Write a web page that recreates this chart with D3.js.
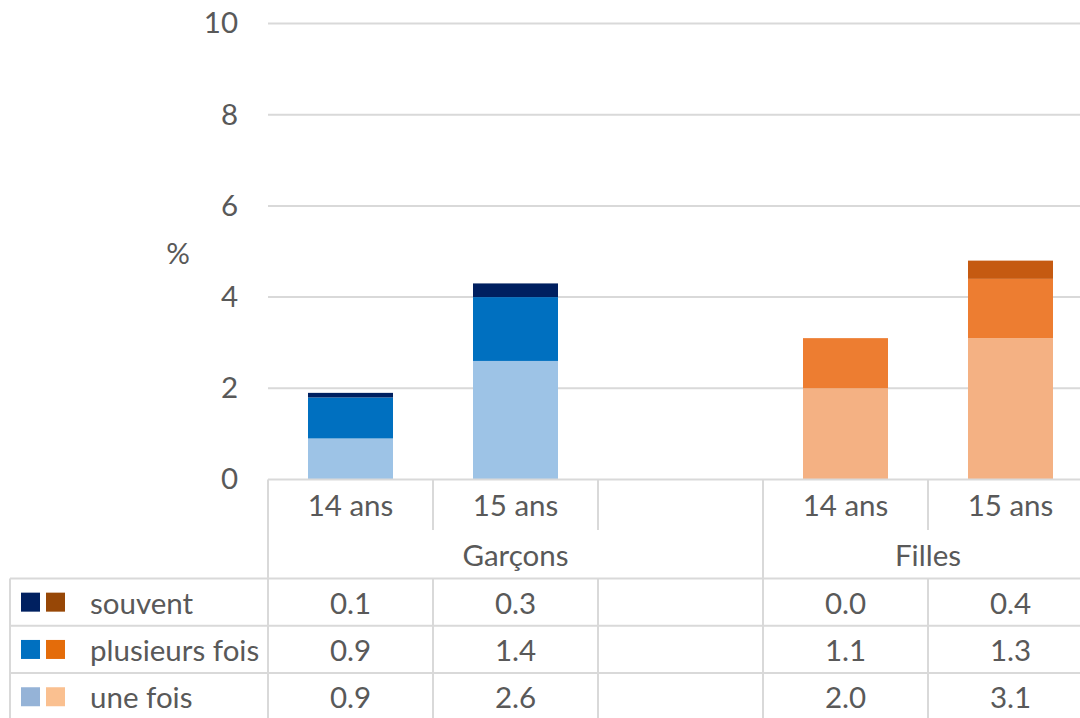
<!DOCTYPE html>
<html><head><meta charset="utf-8">
<script src="https://cdn.jsdelivr.net/npm/d3@7"></script>
<style>
html,body{margin:0;padding:0;background:#fff;}
svg{display:block;font-family:Lato,"Open Sans",sans-serif;}
</style></head>
<body><svg id="c" width="1080" height="718"></svg>
<script>
// ---- data ----
const slots = ["g14","g15","gap","f14","f15"];
const slotLabels = ["14 ans","15 ans","","14 ans","15 ans"];
const slotGroup = ["Garçons","Garçons","Garçons","Filles","Filles"];
const groups = ["Garçons","Filles"];
const seriesNames = ["une fois","plusieurs fois","souvent"];
const uneFois = [0.9, 2.6, null, 2.0, 3.1];
const plusieursFois = [0.9, 1.4, null, 1.1, 1.3];
const souvent = [0.1, 0.3, null, 0.0, 0.4];
const yTicks = [0,2,4,6,8,10];
const boyColors = ["#9DC3E6","#0070C0","#002060"];
const girlColors = ["#F4B183","#ED7D31","#C55A11"];
const legendBoy = ["#95B3D7","#0070C0","#002060"];
const legendGirl = ["#FAC090","#E46C0A","#974706"];

const seriesVals = [uneFois, plusieursFois, souvent];
const svg = d3.select("#c");
const textCol = "#595959", lineCol = "#D9D9D9";
const fs = 29.5;

const step = 165, x0 = 268;
const x = d3.scaleBand().domain(slots).range([x0, x0 + step*slots.length])
  .paddingInner(80/165).paddingOuter(40/165);
const y = d3.scaleLinear().domain([0,10]).range([479.5, 23.5]);

// gridlines
svg.append("g").selectAll("line").data(yTicks.filter(t=>t>0)).join("line")
  .attr("x1", x0).attr("x2", 1080).attr("y1", d=>y(d)).attr("y2", d=>y(d))
  .attr("stroke", lineCol).attr("stroke-width", 2);

// y axis labels
const yAxis = d3.axisLeft(y).tickValues(yTicks).tickSize(0).tickPadding(0);
const ya = svg.append("g").attr("transform","translate(238,0)").call(yAxis);
ya.select(".domain").remove();
ya.selectAll("text").attr("fill", textCol).style("font-size", fs+"px").style("font-family","Lato,'Open Sans',sans-serif");

svg.append("text").attr("x",178).attr("y",252).attr("text-anchor","middle")
  .attr("dominant-baseline","central").attr("fill",textCol).style("font-size",fs+"px").text("%");

// stacked bars
const rows = slots.map((s,i)=>{ const o={slot:s}; seriesNames.forEach((n,k)=>o[n]=seriesVals[k][i]||0); return o; });
const stack = d3.stack().keys(seriesNames)(rows);
stack.forEach((layer,k)=>{
  svg.append("g").selectAll("rect").data(layer.filter(d=>d.data.slot!=="gap")).join("rect")
    .attr("x", d=>x(d.data.slot)).attr("width", x.bandwidth())
    .attr("y", d=>y(d[1])).attr("height", d=>y(d[0])-y(d[1]))
    .attr("fill", d=> slotGroup[slots.indexOf(d.data.slot)]==="Garçons" ? boyColors[k] : girlColors[k]);
});

// axis/table lines
const g = svg.append("g").attr("stroke", lineCol).attr("stroke-width", 2);
const yBase = y(0), yCat = 530, yTab = 578.5, rowH = 47.3;
g.append("line").attr("x1",x0).attr("x2",1080).attr("y1",yBase).attr("y2",yBase);
slots.forEach((s,i)=>{
  const bx = x(s) - x.step()*x.paddingInner()/2;
  const startGroup = i===0 || slotGroup[i]!==slotGroup[i-1];
  g.append("line").attr("x1",bx).attr("x2",bx).attr("y1",yBase).attr("y2", startGroup? 718 : yCat);
});
[0,1,2].forEach(r=>{
  g.append("line").attr("x1",10).attr("x2",1080).attr("y1",yTab+r*rowH).attr("y2",yTab+r*rowH);
});
g.append("line").attr("x1",10).attr("x2",10).attr("y1",yTab).attr("y2",718);
slots.forEach((s,i)=>{
  const bx = x(s) - x.step()*x.paddingInner()/2;
  g.append("line").attr("x1",bx).attr("x2",bx).attr("y1",yTab).attr("y2",718);
});

// category labels
svg.append("g").selectAll("text").data(slots).join("text")
  .attr("x", d=>x(d)+x.bandwidth()/2).attr("y", 504).attr("text-anchor","middle")
  .attr("dominant-baseline","central").attr("fill",textCol).style("font-size",fs+"px")
  .text((d,i)=>slotLabels[i]);
groups.forEach(gr=>{
  const idx = slots.map((s,i)=>i).filter(i=>slotGroup[i]===gr);
  const a = x(slots[idx[0]]) - x.step()*x.paddingInner()/2;
  const b = x(slots[idx[idx.length-1]]) + x.bandwidth() + x.step()*x.paddingInner()/2;
  svg.append("text").attr("x",(a+b)/2).attr("y",554).attr("text-anchor","middle")
    .attr("dominant-baseline","central").attr("fill",textCol).style("font-size",fs+"px").text(gr);
});

// table rows (top: souvent)
const order = [2,1,0];
order.forEach((k,r)=>{
  const cy = yTab + r*rowH + rowH/2;
  svg.append("rect").attr("x",21).attr("y",cy-9.5).attr("width",19).attr("height",19).attr("fill",legendBoy[k]);
  svg.append("rect").attr("x",46).attr("y",cy-9.5).attr("width",19).attr("height",19).attr("fill",legendGirl[k]);
  svg.append("text").attr("x",90).attr("y",cy).attr("dominant-baseline","central")
    .attr("fill",textCol).style("font-size",fs+"px").text(seriesNames[k]);
  slots.forEach((s,i)=>{
    const v = seriesVals[k][i];
    if(v===null) return;
    svg.append("text").attr("x",x(s)+x.bandwidth()/2).attr("y",cy).attr("text-anchor","middle")
      .attr("dominant-baseline","central").attr("fill",textCol).style("font-size",fs+"px").text(v.toFixed(1));
  });
});
</script></body></html>
